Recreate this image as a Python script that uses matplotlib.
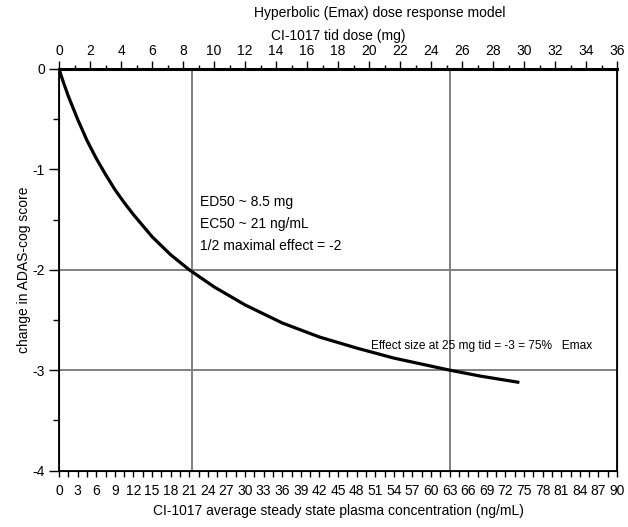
import matplotlib
matplotlib.use("Agg")
import matplotlib.pyplot as plt
from matplotlib.ticker import MultipleLocator

plt.rcParams['font.family'] = ['Liberation Sans', 'DejaVu Sans']
plt.rcParams['axes.unicode_minus'] = False

# plasma concentration (ng/mL) and change in ADAS-cog score
conc = [0, 0.75, 1.5, 3, 4.5, 6, 7.5, 9, 10.5, 12, 15, 18, 21, 25, 30, 36,
        42, 48, 54, 60, 63, 68, 74]
score = [0, -0.14, -0.27, -0.50, -0.71, -0.89, -1.05, -1.20, -1.33, -1.45,
         -1.67, -1.85, -2.00, -2.17, -2.35, -2.53, -2.67, -2.78, -2.88,
         -2.96, -3.00, -3.06, -3.12]

# reference lines
grid_conc = [21.5, 63]
grid_score = [-2, -3]

fig = plt.figure(figsize=(6.28, 5.27), dpi=100)
ax = fig.add_axes([59/628, 1 - 470.5/527, 558/628, 401.5/527])

for c in grid_conc:
    ax.axvline(c, color='#808080', lw=1.4, zorder=1)
for s in grid_score:
    ax.axhline(s, color='#808080', lw=1.4, zorder=1)

ax.plot(conc, score, color='black', lw=2.3, zorder=3)

ax.set_xlim(0, 90)
ax.set_ylim(-4, 0)
ax.xaxis.set_major_locator(MultipleLocator(3))
ax.xaxis.set_minor_locator(MultipleLocator(1.5))
ax.yaxis.set_major_locator(MultipleLocator(1))
ax.yaxis.set_minor_locator(MultipleLocator(0.5))
ax.tick_params(axis='x', which='both', direction='out', length=4, width=1,
               labelsize=10, pad=6)
ax.tick_params(axis='y', which='major', direction='out', length=7, width=1,
               labelsize=10, pad=3)
ax.tick_params(axis='y', which='minor', direction='out', length=4, width=1)
ax.set_xlabel('CI-1017 average steady state plasma concentration (ng/mL)',
              fontsize=10, labelpad=4)
ax.set_ylabel('change in ADAS-cog score', fontsize=10, labelpad=1.5)
for sp in ax.spines.values():
    sp.set_linewidth(1.3)

ax2 = ax.twiny()
ax2.set_xlim(0, 36)
ax2.xaxis.set_major_locator(MultipleLocator(2))
ax2.xaxis.set_minor_locator(MultipleLocator(1))
ax2.tick_params(axis='x', which='major', direction='out', length=6, width=1,
                labelsize=10, pad=2)
ax2.tick_params(axis='x', which='minor', direction='out', length=3, width=1)
ax2.set_xlabel('CI-1017 tid dose (mg)', fontsize=10, labelpad=3)
ax2.spines['top'].set_linewidth(2.2)

ax.text(22.7, -1.33, 'ED50 ~ 8.5 mg', fontsize=10, va='center')
ax.text(22.7, -1.54, 'EC50 ~ 21 ng/mL', fontsize=10, va='center')
ax.text(22.7, -1.76, '1/2 maximal effect = -2', fontsize=10, va='center')
ax.text(50.3, -2.76, 'Effect size at 25 mg tid = -3 = 75%   Emax',
        fontsize=8.6, va='center')

fig.text(380/628, 1 - 13/527, 'Hyperbolic (Emax) dose response model',
         fontsize=10, ha='center', va='center')

fig.savefig('out.png', dpi=100)
